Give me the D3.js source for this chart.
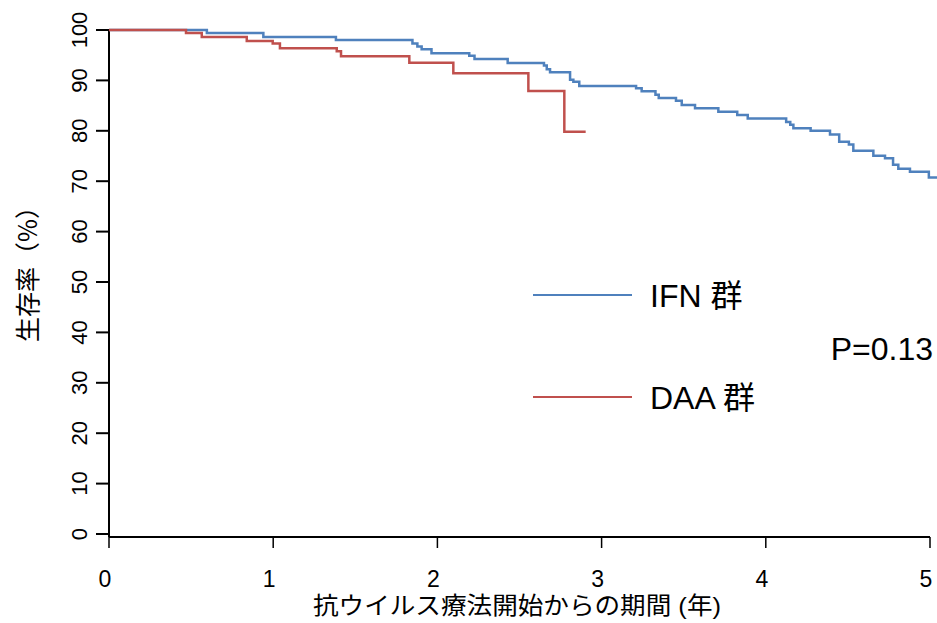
<!DOCTYPE html>
<head>
<meta charset="utf-8">
<script src="https://d3js.org/d3.v7.min.js"></script>
<style>
body { margin:0; background:#fff; }
text { font-family: Arial, "Liberation Sans", "Noto Sans CJK JP", sans-serif; fill:#000; }
</style>
</head>
<body>
<script>
// survival steps: time (years) and survival (%) after each drop
var ifnTime = [0, 0.596, 0.940, 1.382, 1.848, 1.878, 1.904, 1.964, 2.194, 2.226, 2.428, 2.649, 2.666, 2.686,
  2.808, 2.828, 2.864, 3.210, 3.244, 3.328, 3.348, 3.453, 3.488, 3.569, 3.711, 3.826, 3.890, 4.124, 4.149,
  4.168, 4.273, 4.391, 4.447, 4.506, 4.533, 4.655, 4.726, 4.775, 4.807, 4.878, 4.993, 5.05];
var ifnSurv = [100, 99.42, 98.61, 98.02, 97.32, 96.73, 96.19, 95.38, 94.90, 94.25, 93.45, 92.96, 92.22, 91.61,
  90.14, 89.72, 88.89, 88.43, 87.84, 87.16, 86.51, 85.95, 85.12, 84.48, 83.79, 83.13, 82.44, 81.75, 81.21,
  80.50, 80.00, 79.25, 77.84, 77.26, 76.03, 75.06, 74.54, 73.27, 72.48, 71.88, 70.73, 70.73];
var daaTime = [0, 0.469, 0.565, 0.839, 0.997, 1.041, 1.387, 1.413, 1.829, 2.097, 2.554, 2.773, 2.903];
var daaSurv = [100, 99.4, 98.6, 97.8, 97.3, 96.4, 95.8, 94.8, 93.5, 91.4, 87.9, 79.8, 79.8];
var groups = ["IFN 群", "DAA 群"];
var yTicks = d3.range(0, 101, 10);
var xTicks = [0, 1, 2, 3, 4, 5];

var width = 937, height = 623;
var blue = "#4f81bd", red = "#c0504d";
var narrow = "'Liberation Sans Narrow', 'Arial Narrow', sans-serif";

var svg = d3.select("body").append("svg")
    .attr("width", width)
    .attr("height", height);

var x = d3.scaleLinear().domain([0, 5]).range([109, 930]);
var y = d3.scaleLinear().domain([0, 100]).range([534, 30]);

// y axis
var yAxis = svg.append("g");
yAxis.append("line")
    .attr("x1", 109).attr("x2", 109)
    .attr("y1", y(100)).attr("y2", y(0) + 3)
    .attr("stroke", "#000").attr("stroke-width", 2);
yAxis.selectAll(".yt").data(yTicks).enter().append("line")
    .attr("x1", 96).attr("x2", 109)
    .attr("y1", function(d) { return y(d); })
    .attr("y2", function(d) { return y(d); })
    .attr("stroke", "#000").attr("stroke-width", 2);
yAxis.selectAll(".yl").data(yTicks).enter().append("text")
    .attr("transform", function(d) { return "translate(87," + y(d) + ") rotate(-90)"; })
    .attr("text-anchor", "middle")
    .style("font-family", narrow)
    .style("font-size", "22px")
    .text(function(d) { return d; });

// x axis
var xAxis = svg.append("g");
xAxis.append("line")
    .attr("x1", x(0)).attr("x2", x(5))
    .attr("y1", y(0) + 3).attr("y2", y(0) + 3)
    .attr("stroke", "#000").attr("stroke-width", 2);
xAxis.selectAll(".xt").data(xTicks).enter().append("line")
    .attr("x1", function(d) { return x(d); })
    .attr("x2", function(d) { return x(d); })
    .attr("y1", y(0) + 3).attr("y2", y(0) + 14)
    .attr("stroke", "#000").attr("stroke-width", 1.5);
xAxis.selectAll(".xl").data(xTicks).enter().append("text")
    .attr("x", function(d) { return x(d) - 4; })
    .attr("y", 587)
    .attr("text-anchor", "middle")
    .style("font-family", narrow)
    .style("font-size", "23px")
    .text(function(d) { return d; });

svg.append("text")
    .attr("x", 517).attr("y", 614)
    .attr("text-anchor", "middle")
    .attr("textLength", 408)
    .attr("lengthAdjust", "spacingAndGlyphs")
    .style("font-size", "24px")
    .text("抗ウイルス療法開始からの期間 (年)");

svg.append("text")
    .attr("transform", "translate(37,268) rotate(-90)")
    .attr("text-anchor", "middle")
    .style("font-size", "25px")
    .style("font-family", "'Noto Sans CJK JP', sans-serif")
    .text("生存率（%）");

// curves
var line = d3.line()
    .x(function(d) { return x(d[0]); })
    .y(function(d) { return y(d[1]); })
    .curve(d3.curveStepAfter);

svg.append("path")
    .datum(d3.zip(ifnTime, ifnSurv))
    .attr("d", line)
    .attr("fill", "none")
    .attr("stroke", blue)
    .attr("stroke-width", 2.5);

svg.append("path")
    .datum(d3.zip(daaTime, daaSurv))
    .attr("d", line)
    .attr("fill", "none")
    .attr("stroke", red)
    .attr("stroke-width", 2.5);

// legend
var legend = svg.append("g");
var legY = [295, 397];
var legC = [blue, red];
legend.selectAll(".ll").data(groups).enter().append("line")
    .attr("x1", 533).attr("x2", 632)
    .attr("y1", function(d, i) { return legY[i]; })
    .attr("y2", function(d, i) { return legY[i]; })
    .attr("stroke", function(d, i) { return legC[i]; })
    .attr("stroke-width", 2);
legend.selectAll(".lt").data(groups).enter().append("text")
    .attr("x", 650)
    .attr("y", function(d, i) { return legY[i] + 12; })
    .style("font-size", "32px")
    .text(function(d) { return d; });

svg.append("text")
    .attr("x", 933).attr("y", 360)
    .attr("text-anchor", "end")
    .style("font-size", "32px")
    .text("P=0.13");
</script>
</body>
